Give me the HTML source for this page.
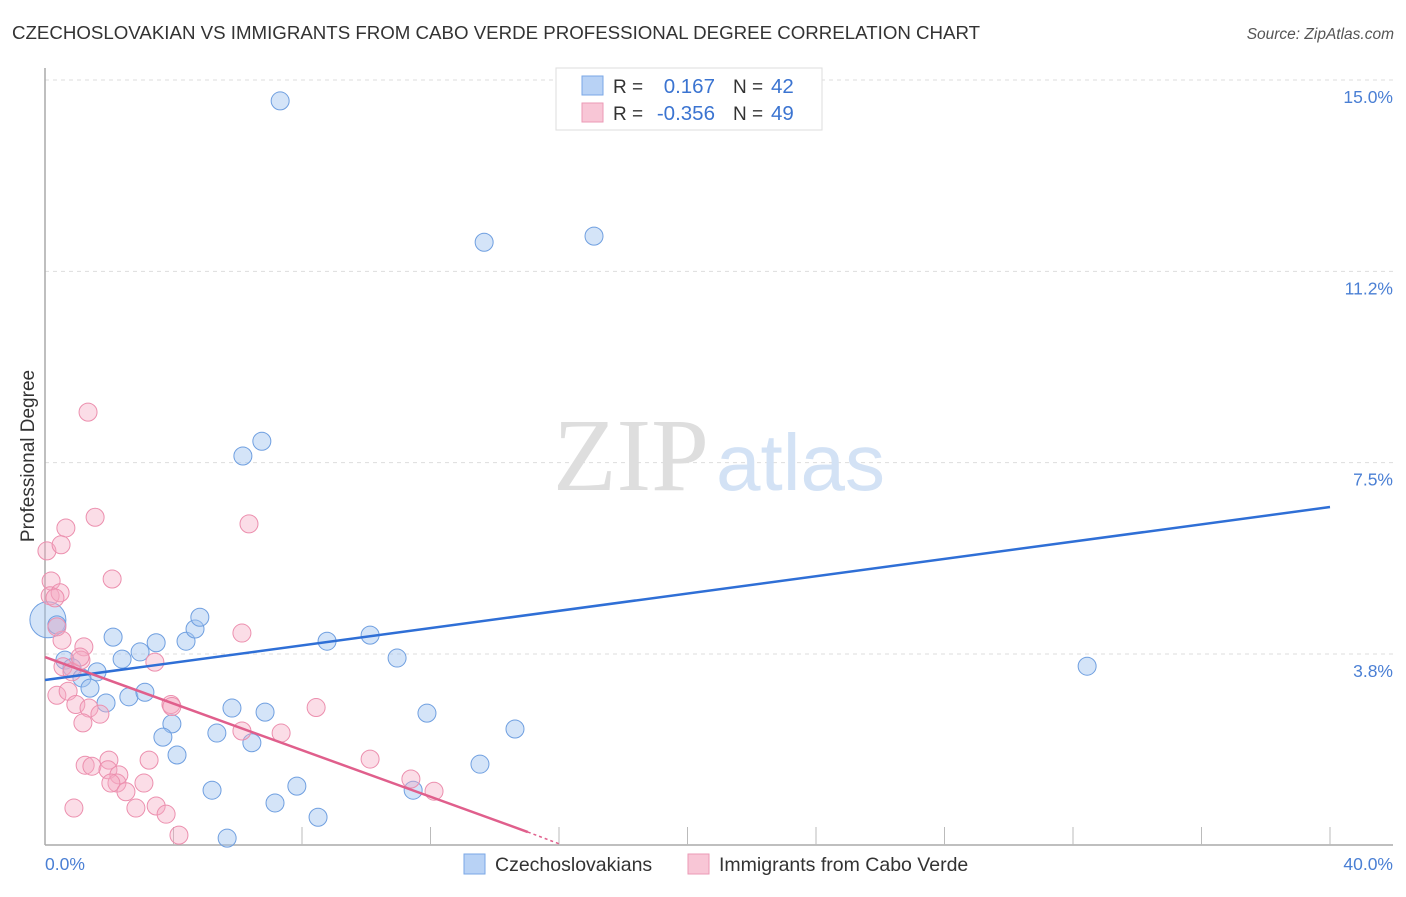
<!DOCTYPE html>
<html><head><meta charset="utf-8"><style>
body{margin:0;background:#fff;font-family:"Liberation Sans",sans-serif;}
svg text{font-family:"Liberation Sans",sans-serif;}
</style></head><body>
<svg id="chart" width="1406" height="892" viewBox="0 0 1406 892" xmlns="http://www.w3.org/2000/svg">
<text x="12" y="39" font-size="18.7" fill="#333">CZECHOSLOVAKIAN VS IMMIGRANTS FROM CABO VERDE PROFESSIONAL DEGREE CORRELATION CHART</text>
<text x="1394" y="39" font-size="15.5" fill="#555" font-style="italic" text-anchor="end">Source: ZipAtlas.com</text>
<g id="grid"></g>
<g>
<text x="553" y="490" font-size="104" fill="#dedede" style="font-family:'Liberation Serif',serif">ZIP</text>
<text x="716" y="490" font-size="80" fill="#d3e2f5">atlas</text>
</g>
<line x1="45" y1="68" x2="45" y2="845" stroke="#aaa" stroke-width="1.5"/>
<line x1="45" y1="845" x2="1393" y2="845" stroke="#aaa" stroke-width="1.5"/>
<g id="ticks"></g>
<g id="pts"></g>
<g id="trends"></g>
<text transform="translate(34,456) rotate(-90)" font-size="19" fill="#333" text-anchor="middle">Professional Degree</text>
<text x="45" y="870" font-size="17.5" fill="#4a7fd4">0.0%</text>
<text x="1393" y="870" font-size="17.5" fill="#4a7fd4" text-anchor="end">40.0%</text>
<g>
<rect x="556" y="68" width="266" height="62" fill="#fff" stroke="#ddd"/>
<rect x="582" y="76" width="21" height="19" fill="#b8d2f5" stroke="#7aa7e6"/>
<rect x="582" y="103" width="21" height="19" fill="#f8c6d6" stroke="#eb9ab6"/>
<text x="613" y="93" font-size="19" fill="#333">R =</text>
<text x="715" y="93" font-size="20.5" fill="#3b74d1" text-anchor="end">0.167</text>
<text x="733" y="93" font-size="19" fill="#333">N =</text>
<text x="771" y="93" font-size="20.5" fill="#3b74d1">42</text>
<text x="613" y="120" font-size="19" fill="#333">R =</text>
<text x="715" y="120" font-size="20.5" fill="#3b74d1" text-anchor="end">-0.356</text>
<text x="733" y="120" font-size="19" fill="#333">N =</text>
<text x="771" y="120" font-size="20.5" fill="#3b74d1">49</text>
</g>
<g>
<rect x="464" y="854" width="21" height="20" fill="#b8d2f5" stroke="#7aa7e6"/>
<text x="495" y="871" font-size="19.5" fill="#333">Czechoslovakians</text>
</g>
<g>
<rect x="688" y="854" width="21" height="20" fill="#f8c6d6" stroke="#eb9ab6"/>
<text x="719" y="871" font-size="19.5" fill="#333">Immigrants from Cabo Verde</text>
</g>
</svg>
<script>
const yTicks=[3.75,7.5,11.25,15];
const yTickLabels=["3.8%","7.5%","11.2%","15.0%"];
const xTicks=[4,8,12,16,20,24,28,32,36,40];
const blueX=[7.32,13.67,17.09,6.75,6.16,32.44,0.09,0.37,2.12,3.46,4.39,4.67,4.82,8.78,10.12,10.96,2.96,2.40,0.62,0.84,1.62,1.15,1.40,1.90,2.61,3.11,3.95,3.67,5.82,6.85,5.35,6.44,4.11,11.89,14.63,13.54,7.84,5.20,7.16,11.46,8.50,5.67];
const blueY=[14.59,11.82,11.94,7.92,7.63,3.51,4.42,4.32,4.08,3.97,4.00,4.24,4.47,4.00,4.12,3.67,3.79,3.65,3.63,3.48,3.40,3.28,3.08,2.79,2.91,3.00,2.38,2.12,2.69,2.61,2.20,2.01,1.77,2.59,2.28,1.59,1.16,1.08,0.83,1.08,0.55,0.14];
const pinkX=[1.34,0.06,0.65,0.50,1.56,6.35,0.19,2.09,0.16,0.47,0.31,6.13,0.53,1.21,0.56,0.84,1.12,3.42,0.37,0.72,0.96,1.37,1.71,1.18,3.92,3.95,8.44,6.13,7.35,1.25,1.46,1.99,1.96,2.30,2.24,2.05,2.52,3.24,3.08,0.90,2.83,3.46,3.77,4.17,10.12,11.39,12.11,1.09,0.37];
const pinkY=[8.49,5.77,6.22,5.89,6.43,6.30,5.18,5.22,4.89,4.95,4.85,4.16,4.02,3.89,3.50,3.40,3.63,3.59,2.94,3.02,2.76,2.69,2.57,2.40,2.76,2.72,2.70,2.24,2.20,1.57,1.55,1.67,1.48,1.38,1.22,1.22,1.05,1.67,1.22,0.73,0.73,0.77,0.61,0.20,1.69,1.30,1.06,3.69,4.28];
const blueTrendX=[0,40];
const blueTrendY=[3.24,6.63];
const pinkTrendX=[0,15.03];
const pinkTrendY=[3.69,0.26];
const pinkDashX=[15.03,16];
const pinkDashY=[0.26,0.03];

const NS="http://www.w3.org/2000/svg";
const sx=v=>45+v*32.125;
const sy=v=>845.3-v*51.02;
function mk(tag,attrs,parent){const e=document.createElementNS(NS,tag);for(const k in attrs)e.setAttribute(k,attrs[k]);parent.appendChild(e);return e;}
const grid=document.getElementById('grid');
yTicks.forEach((t,i)=>{
  const l=mk('line',{x1:45,x2:1393,y1:sy(t),y2:sy(t),stroke:'#ddd','stroke-dasharray':'4,4'},grid);
  
  
  const tx=mk('text',{x:1393,y:sy(t)+23,'font-size':17.5,fill:'#4a7fd4','text-anchor':'end'},grid);
  tx.textContent=yTickLabels[i];
  
  
});
const ticks=document.getElementById('ticks');
xTicks.forEach(t=>{
  const l=mk('line',{x1:sx(t),x2:sx(t),y1:827,y2:845,stroke:'#bbb'},ticks);
  
  
});
const pts=document.getElementById('pts');
blueX.forEach((x,i)=>{
  const r=i===6?18:9;
  const c=mk('circle',{cx:sx(x),cy:sy(blueY[i]),r:r,fill:'rgba(160,195,240,0.45)',stroke:'#6f9fe0','stroke-width':1},pts);
  
  
});
pinkX.forEach((x,i)=>{
  const c=mk('circle',{cx:sx(x),cy:sy(pinkY[i]),r:9,fill:'rgba(245,170,195,0.4)',stroke:'#ec8fae','stroke-width':1},pts);
  
  
});
const tr=document.getElementById('trends');
const b=mk('line',{x1:sx(blueTrendX[0]),y1:sy(blueTrendY[0]),x2:sx(blueTrendX[1]),y2:sy(blueTrendY[1]),stroke:'#2f6fd6','stroke-width':2.5},tr);


const p=mk('line',{x1:sx(pinkTrendX[0]),y1:sy(pinkTrendY[0]),x2:sx(pinkTrendX[1]),y2:sy(pinkTrendY[1]),stroke:'#e05f8c','stroke-width':2.5},tr);


const pd=mk('line',{x1:sx(pinkDashX[0]),y1:sy(pinkDashY[0]),x2:sx(pinkDashX[1]),y2:sy(pinkDashY[1]),stroke:'#e05f8c','stroke-width':1.5,'stroke-dasharray':'3,3'},tr);


</script>
</body></html>
